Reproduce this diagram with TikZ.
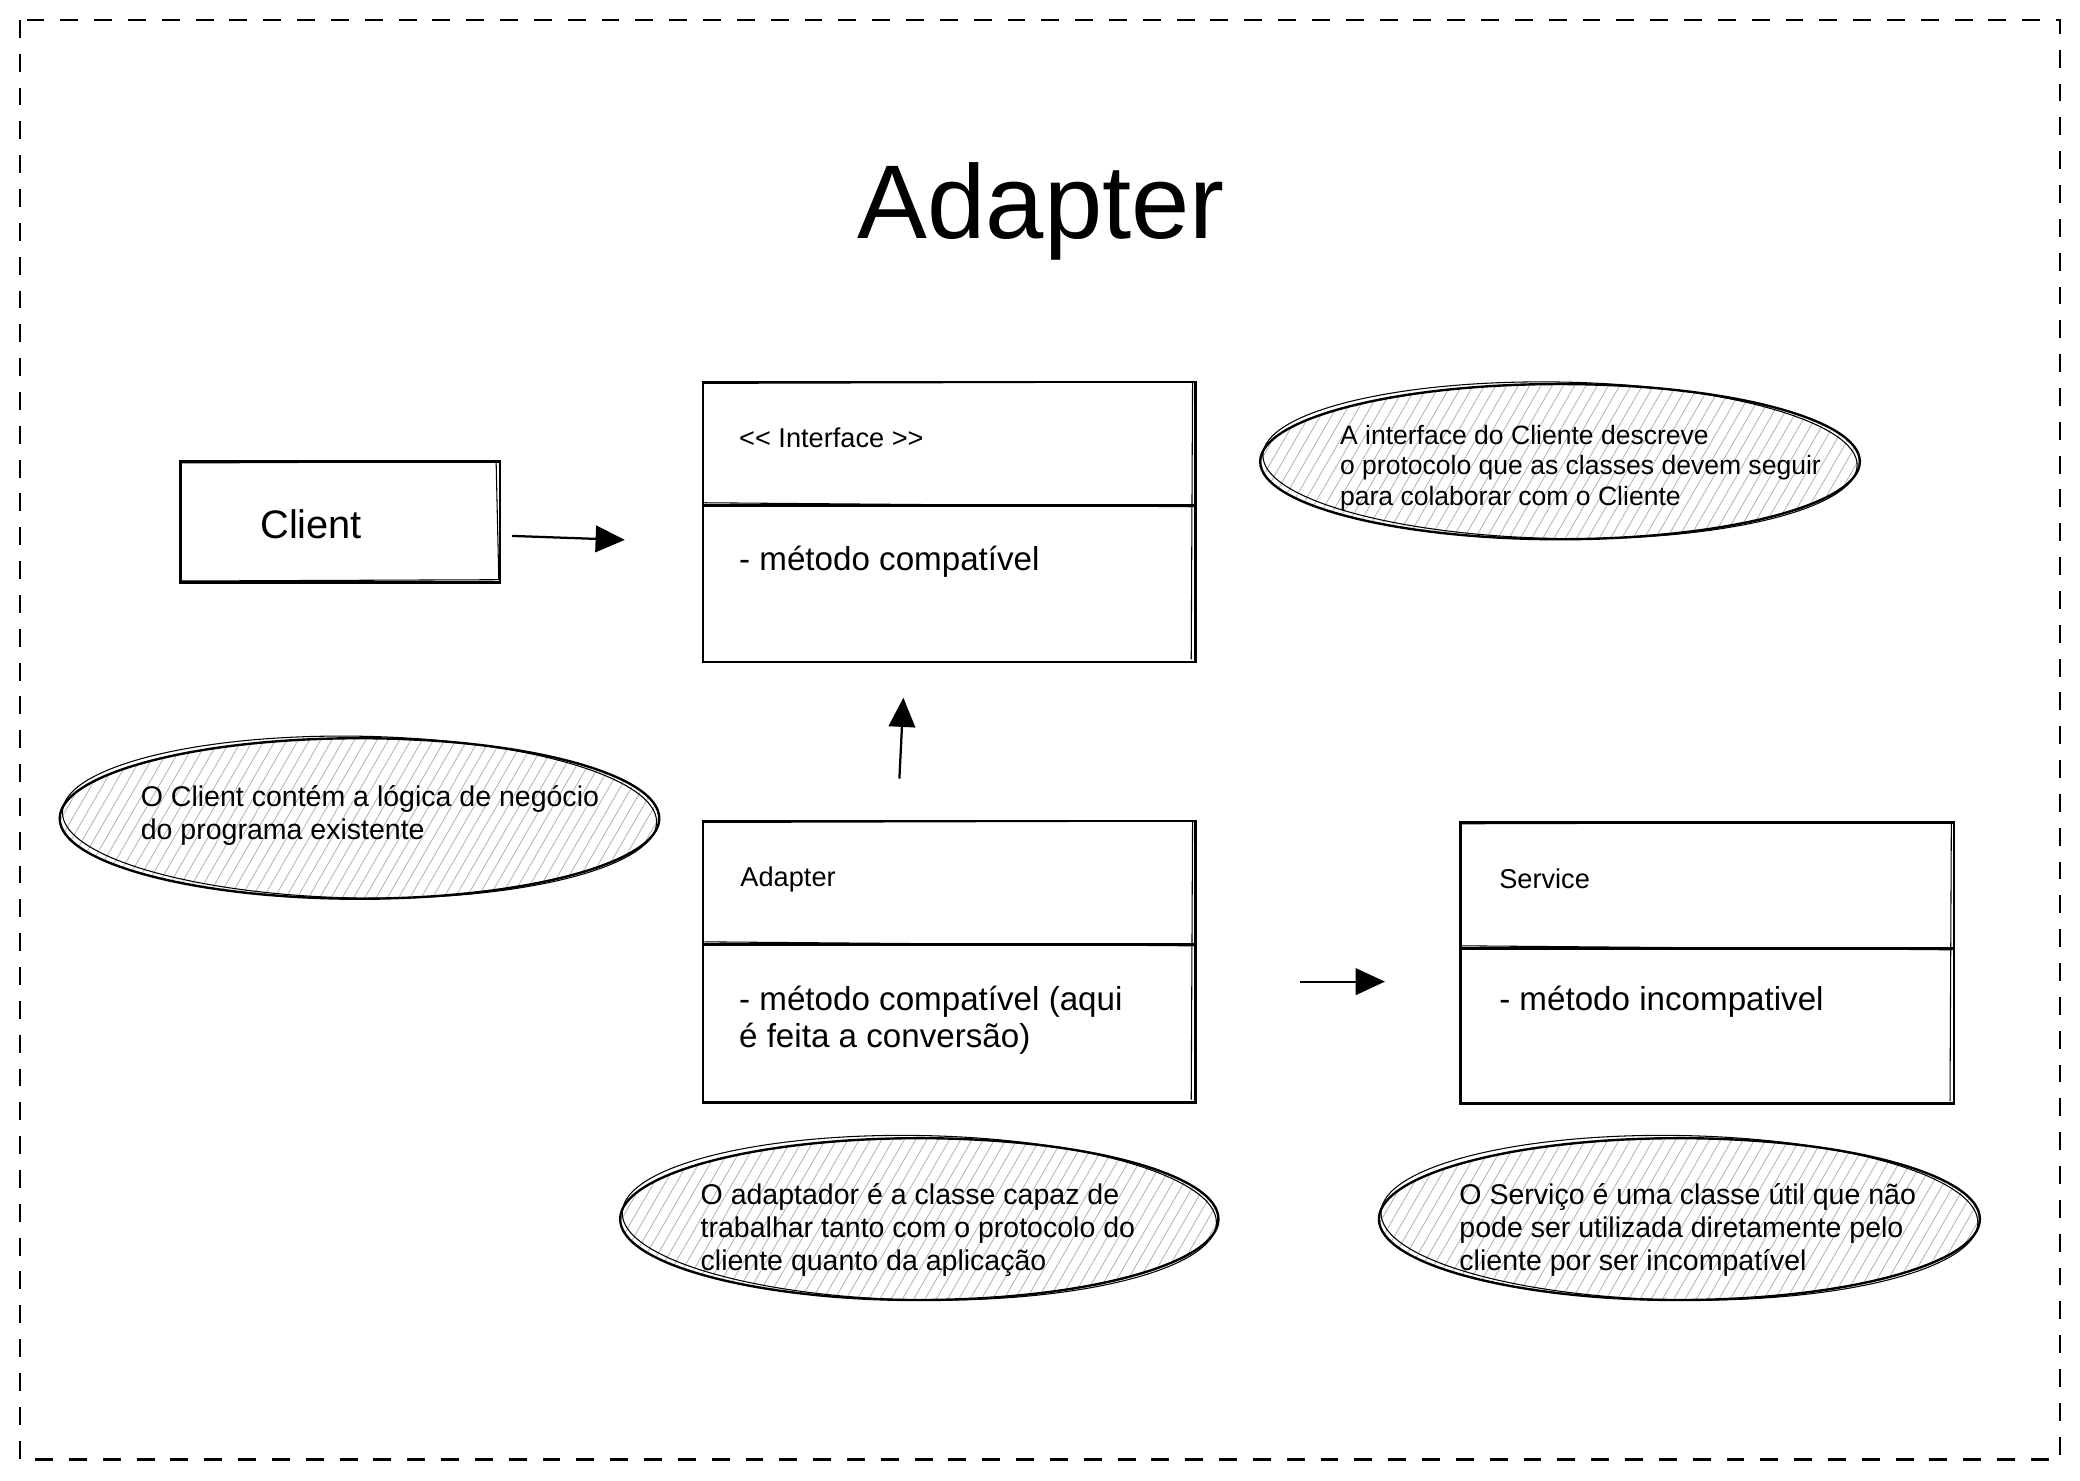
\documentclass[tikz,border=0pt]{standalone}
\usepackage{fontspec}
\setmainfont{Liberation Sans}
\usetikzlibrary{arrows.meta,shapes.geometric}
\newcommand\hatchell[4]{%
  \begin{scope}
    \clip (#1,#2) ellipse [x radius=#3, y radius=#4];
    \fill[white] (#1,#2) ellipse [x radius=#3, y radius=#4];
    \foreach \k in {-62,...,62} {\draw[hatchline] ({#1+\k*8.5-50},{#2+#4+5}) -- ++(100,-173);}
  \end{scope}}
\begin{document}
\begin{tikzpicture}[x=1pt,y=-1pt,
  hatchline/.style={draw=black!30, line width=0.6pt},
  box/.style={draw, line width=2pt, inner sep=0pt, anchor=north west},
  sk/.style={draw, line width=0.8pt},
  note/.style={draw, ellipse, line width=1.8pt, inner sep=0pt},
  conn/.style={line width=1.7pt, -{Triangle[length=22pt,width=20pt]}},
  t20/.style={anchor=base west, inner sep=0pt, font=\fontsize{20.5}{24}\selectfont},
  tn/.style={anchor=base west, inner sep=0pt, font=\fontsize{20}{24}\selectfont},
  t21/.style={anchor=base west, inner sep=0pt, font=\fontsize{21.5}{25}\selectfont},
  t25/.style={anchor=base west, inner sep=0pt, font=\fontsize{25}{29}\selectfont},
]
\useasboundingbox (0,0) rectangle (1568,1115.7);
\fill[white] (0,0) rectangle (1568,1115.7);
% frame
\draw[line width=2pt, dash pattern=on 13.5pt off 12pt] (15,15) rectangle (1553,1100);
% title
\node[anchor=base, inner sep=0pt, font=\fontsize{79}{90}\selectfont] (title) at (785,180) {Adapter};

% Client
\node[box, minimum width=241pt, minimum height=91pt] (client) at (135,347) {};
\draw[sk] (137,349) -- (374,348) -- (376,437) -- (136,438);
\node[anchor=base west, inner sep=0pt, font=\fontsize{30}{36}\selectfont] (clientt) at (196,406) {Client};

% Interface
\node[box, minimum width=371pt, minimum height=211pt] (iface) at (529,287) {};
\draw[sk] (530,289) -- (899,288) -- (898,497);
\draw[line width=2pt] (529,381) -- (900,381);
\draw[sk] (531,379) -- (898,382);
\node[t20] (ifacet) at (557,337) {<{}< Interface >{}>};
\node[t25] (ifacem) at (557,430) {- método compatível};

% Adapter
\node[box, minimum width=371pt, minimum height=212pt] (adapter) at (529,618) {};
\draw[sk] (530,620) -- (899,619) -- (898,829);
\draw[line width=2pt] (529,712) -- (900,712);
\draw[sk] (531,710) -- (898,713);
\node[t20] (adaptert) at (558,668) {Adapter};
\node[t25] (adapterm1) at (557,762) {- método compatível (aqui};
\node[t25] (adapterm2) at (557,790) {é feita a conversão)};

% Service
\node[box, minimum width=372pt, minimum height=212pt] (service) at (1100,619) {};
\draw[sk] (1101,621) -- (1471,620) -- (1470,830);
\draw[line width=2pt] (1100,715) -- (1472,715);
\draw[sk] (1102,713) -- (1470,716);
\node[t20] (servicet) at (1130,670) {Service};
\node[t25] (servicem) at (1130,762) {- método incompativel};

% connectors
\coordinate (c1) at (386,404);
\coordinate (c2) at (471,407);
\draw[conn] (c1) -- (c2);
\coordinate (c3) at (678,587);
\coordinate (c4) at (681,526);
\draw[conn] (c3) -- (c4);
\coordinate (c5) at (980,740);
\coordinate (c6) at (1044,740);
\draw[conn] (c5) -- (c6);

% notes
\hatchell{1176}{348}{225}{58}
\node[note, minimum width=452pt, minimum height=117pt] (n1) at (1176,348) {};
\draw[sk, rotate around={-1:(1176,348)}] (1176,347) ellipse [x radius=224, y radius=59];
\node[tn] (n1a) at (1010,335) {A interface do Cliente descreve};
\node[tn] (n1b) at (1010,358) {o protocolo que as classes devem seguir};
\node[tn] (n1c) at (1010,381) {para colaborar com o Cliente};

\hatchell{271}{617}{225}{60}
\node[note, minimum width=452pt, minimum height=121pt] (n2) at (271,617) {};
\draw[sk, rotate around={-1:(271,617)}] (271,616) ellipse [x radius=224, y radius=61];
\node[t21] (n2a) at (106,608) {O Client contém a lógica de negócio};
\node[t21] (n2b) at (106,633) {do programa existente};

\hatchell{693}{919}{225}{61}
\node[note, minimum width=451pt, minimum height=122pt] (n3) at (693,919) {};
\draw[sk, rotate around={-1:(693,919)}] (693,918) ellipse [x radius=224, y radius=62];
\node[t21] (n3a) at (528,908) {O adaptador é a classe capaz de};
\node[t21] (n3b) at (528,933) {trabalhar tanto com o protocolo do};
\node[t21] (n3c) at (528,958) {cliente quanto da aplicação};

\hatchell{1266}{919}{226}{61}
\node[note, minimum width=453pt, minimum height=122pt] (n4) at (1266,919) {};
\draw[sk, rotate around={-1:(1266,919)}] (1266,918) ellipse [x radius=225, y radius=62];
\node[t21] (n4a) at (1100,908) {O Serviço é uma classe útil que não};
\node[t21] (n4b) at (1100,933) {pode ser utilizada diretamente pelo};
\node[t21] (n4c) at (1100,958) {cliente por ser incompatível};
\end{tikzpicture}
\end{document}
